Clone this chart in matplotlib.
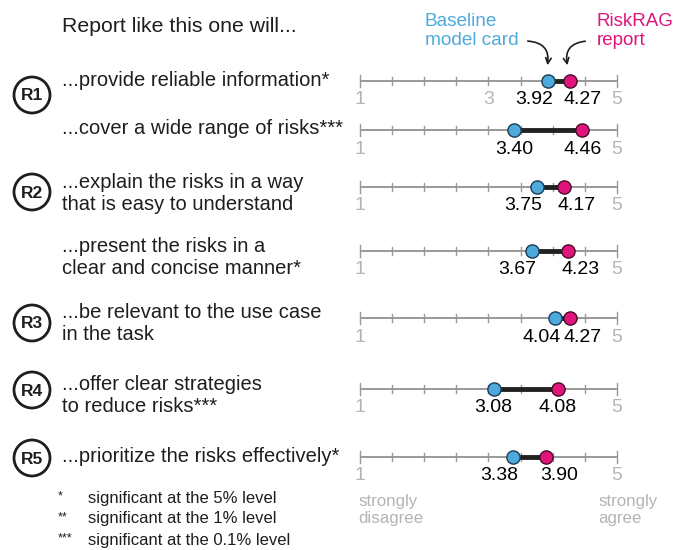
import numpy as np
import matplotlib.pyplot as plt
from matplotlib.patches import Ellipse

plt.rcParams['font.family'] = ['Liberation Sans', 'DejaVu Sans']

# survey items and mean scores (1-5 Likert)
items = ['...provide reliable information*',
         '...cover a wide range of risks***',
         '...explain the risks in a way\nthat is easy to understand',
         '...present the risks in a\nclear and concise manner*',
         '...be relevant to the use case\nin the task',
         '...offer clear strategies\nto reduce risks***',
         '...prioritize the risks effectively*']
baseline = [3.92, 3.40, 3.75, 3.67, 4.04, 3.08, 3.38]
riskrag = [4.27, 4.46, 4.17, 4.23, 4.27, 4.08, 3.90]
groups = ['R1', 'R2', 'R3', 'R4', 'R5']
notes = ['*', '**', '***']
note_txt = ['significant at the 5% level', 'significant at the 1% level',
            'significant at the 0.1% level']

BLUE = '#4ea9dc'
PINK = '#e0157c'
GRAY = '#999999'
LGRAY = '#b4b4b4'
INK = '#1e1e1e'

W, H = 679, 550
fig = plt.figure(figsize=(W / 100, H / 100), dpi=100)
ax = fig.add_axes([0, 0, 1, 1])
# value 1 sits at px 360, value 5 at px 617
upp = 4 / 257
lo, hi = 1 - 360 * upp, 5 + (W - 617) * upp
ax.set_xlim(lo, hi)
ax.set_ylim(H, 0)
ax.axis('off')

def px(p):
    return lo + p * upp

row_y = [81, 130, 187, 251, 318, 389, 457]
group_y = [95, 192, 323, 390, 458]
FS = 14.5
NS = 14

ax.text(px(62), 27, 'Report like this one will...', fontsize=15.3,
        ha='left', va='center', color=INK)

for i, (lab, b, r, y) in enumerate(zip(items, baseline, riskrag, row_y)):
    if '\n' in lab:
        ax.text(px(62), y + 6, lab, fontsize=FS, ha='left', va='center',
                linespacing=1.2, color=INK)
    else:
        ax.text(px(62), y - 1, lab, fontsize=FS, ha='left', va='center', color=INK)
    # scale line and ticks
    ax.plot([1, 5], [y, y], color=GRAY, lw=1.4, zorder=1, solid_capstyle='butt')
    for t in np.arange(1, 5.01, 0.5):
        hh = 6 if t in (1, 5) else 4
        ax.plot([t, t], [y - hh, y + hh], color=GRAY, lw=1, zorder=1)
    ax.text(1, y + 19, '1', fontsize=NS, color=LGRAY, ha='center', va='center')
    ax.text(5, y + 19, '5', fontsize=NS, color=LGRAY, ha='center', va='center')
    if i == 0:
        ax.text(3, y + 19, '3', fontsize=NS, color=LGRAY, ha='center', va='center')
    ax.plot([b, r], [y, y], color='#222222', lw=3.5, zorder=2, solid_capstyle='butt')
    ax.plot(b, y, 'o', ms=9.5, mfc=BLUE, mec='#1a3d55', mew=1, zorder=3)
    ax.plot(r, y, 'o', ms=9.5, mfc=PINK, mec='#4a0a28', mew=1, zorder=3)
    if r - b > 0.9:
        ax.text(b, y + 19, f'{b:.2f}', fontsize=NS, ha='center', va='center')
        ax.text(r, y + 19, f'{r:.2f}', fontsize=NS, ha='center', va='center')
    else:
        ax.text(b + 0.08, y + 19, f'{b:.2f}', fontsize=NS, ha='right', va='center')
        ax.text(r - 0.1, y + 19, f'{r:.2f}', fontsize=NS, ha='left', va='center')

for g, y in zip(groups, group_y):
    ax.add_patch(Ellipse((px(32), y), 36 * upp, 36, fill=False, lw=2, ec=INK))
    ax.text(px(32), y + 1, g, fontsize=12.5, fontweight='bold', ha='center', va='center',
            color=INK)

# legend labels with arrows
ax.text(px(425), 31, 'Baseline\nmodel card', fontsize=13.7, color=BLUE, ha='left',
        va='center', linespacing=1.15)
ax.text(px(597), 31, 'RiskRAG\nreport', fontsize=13.5, color=PINK, ha='left',
        va='center', linespacing=1.15)
ax.annotate('', xy=(px(547), 68), xytext=(px(525), 41),
            arrowprops=dict(arrowstyle='->', color=INK, lw=1.2,
                            connectionstyle='arc3,rad=-0.6'))
ax.annotate('', xy=(px(568), 68), xytext=(px(588), 41),
            arrowprops=dict(arrowstyle='->', color=INK, lw=1.2,
                            connectionstyle='arc3,rad=0.6'))

# footnotes and scale anchors
for k, (n, t) in enumerate(zip(notes, note_txt)):
    yy = 498 + k * 21
    ax.text(px(58), yy - 2, n, fontsize=9, ha='left', va='center', color=INK)
    ax.text(px(88), yy, t, fontsize=12, ha='left', va='center', color=INK)

ax.text(px(358), 510, 'strongly\ndisagree', fontsize=12.2, color=LGRAY, ha='left',
        va='center', linespacing=1.15)
ax.text(px(598), 510, 'strongly\nagree', fontsize=12.2, color=LGRAY, ha='left',
        va='center', linespacing=1.15)

fig.savefig('out.png', dpi=100)
